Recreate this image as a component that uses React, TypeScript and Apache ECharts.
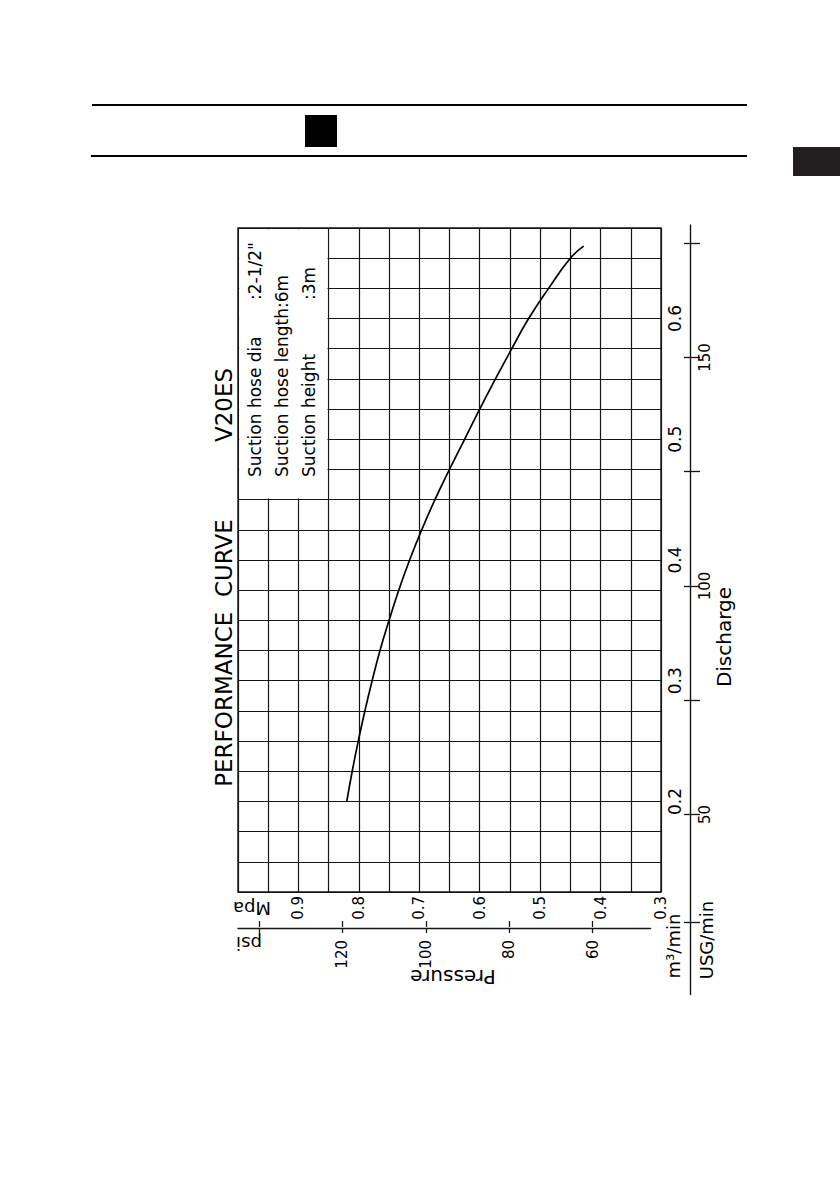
import React, { useEffect, useRef } from "react";
import * as echarts from "echarts";

// ---- data (rotated performance curve) ----
const DISCHARGE_M3 = [0.2, 0.225, 0.25, 0.275, 0.3, 0.325, 0.35, 0.375, 0.4, 0.425, 0.45, 0.475, 0.5, 0.525, 0.55, 0.575, 0.6, 0.625, 0.65, 0.66];
const PRESSURE_MPA = [0.82, 0.811, 0.801, 0.79, 0.778, 0.765, 0.75, 0.734, 0.716, 0.696, 0.674, 0.65, 0.625, 0.6, 0.574, 0.547, 0.519, 0.486, 0.45, 0.428];

const MPA_MIN = 0.3;
const MPA_MAX = 1.0;
const MPA_STEP = 0.05;
const M3_MIN = 0.125;
const M3_MAX = 0.675;
const M3_STEP = 0.025;
const PSI_TICKS = [60, 80, 100, 120, 140];
const PSI_LABELS = [60, 80, 100, 120];
const USG_TICKS = [50, 75, 100, 125, 150, 175];
const USG_LABELS = [50, 100, 150];
const M3_ORIGIN_TICK = 0.1;
const PSI_PER_MPA = 145.038;
const USG_PER_M3 = 264.172;

const TITLE = "PERFORMANCE  CURVE";
const MODEL = "V20ES";
const INFO_LABELS = ["Suction hose dia", "Suction hose length:6m", "Suction height"];
const INFO_VALUES = [':2-1/2"', "", ":3m"];
const INFO_BOX = { mpaFrom: 1.0, mpaTo: 0.85, m3From: 0.45, m3To: 0.675 };

const FONT = "DejaVu Sans";
const INK = "#151515";

const psiToMpa = (p: number) => p / PSI_PER_MPA;
const usgToM3 = (u: number) => u / USG_PER_M3;

export default function App() {
  const ref = useRef<HTMLDivElement>(null);
  useEffect(() => {
    if (!ref.current) return;
    const chart = echarts.init(ref.current, undefined, { renderer: "svg" });
    const lbl = { color: "#000", fontFamily: FONT };
    const axisTickM3 = [M3_ORIGIN_TICK, ...USG_TICKS.map(usgToM3)];
    const option: any = {
      animation: false,
      backgroundColor: "#fff",
      grid: [
        { left: 238, top: 228, width: 423, height: 664, show: true, borderColor: INK, borderWidth: 1.4 },
        { left: 690, top: 225, width: 1, height: 769.6 },
        { left: 238, top: 927, width: 412.6, height: 1 },
      ],
      xAxis: [
        {
          gridIndex: 0, type: "value", min: MPA_MIN, max: MPA_MAX, interval: MPA_STEP, inverse: true, position: "bottom",
          axisLine: { show: false }, axisTick: { show: false },
          splitLine: { show: true, lineStyle: { color: INK, width: 1.2 } },
          axisLabel: {
            ...lbl, rotate: 90, margin: 4, fontSize: 15,
            formatter: (v: number) => { const r = Math.round(v * 100); return r % 10 === 0 && r < 100 ? (r / 100).toFixed(1) : ""; },
          },
        },
        { gridIndex: 1, type: "value", show: false, min: 0, max: 1 },
        {
          gridIndex: 2, type: "value", min: 0.318, max: MPA_MAX, inverse: true, position: "bottom",
          axisLine: { show: true, lineStyle: { color: INK, width: 1.3 } },
          axisTick: { show: true, customValues: PSI_TICKS.map(psiToMpa), length: 5, lineStyle: { color: INK, width: 1.3 } },
          splitLine: { show: false },
          axisLabel: {
            ...lbl, customValues: PSI_LABELS.map(psiToMpa), rotate: 90, margin: 12, fontSize: 15,
            formatter: (v: number) => String(Math.round(v * PSI_PER_MPA)),
          },
        },
        {
          gridIndex: 2, type: "value", min: 0.318, max: MPA_MAX, inverse: true, position: "top",
          axisLine: { show: false },
          axisTick: { show: true, customValues: PSI_TICKS.map(psiToMpa), length: 6, lineStyle: { color: INK, width: 1.3 } },
          splitLine: { show: false }, axisLabel: { show: false },
        },
      ],
      yAxis: [
        {
          gridIndex: 0, type: "value", min: M3_MIN, max: M3_MAX, interval: M3_STEP, position: "right",
          axisLine: { show: false }, axisTick: { show: false },
          splitLine: { show: true, lineStyle: { color: INK, width: 1.2 } },
          axisLabel: {
            ...lbl, rotate: 90, margin: 14, fontSize: 17, align: "center", verticalAlign: "middle",
            formatter: (v: number) => { const r = Math.round(v * 1000); return r % 100 === 0 ? (r / 1000).toFixed(1) : ""; },
          },
        },
        {
          gridIndex: 1, type: "value", min: 0.04, max: 0.6775, position: "left",
          axisLine: { show: true, lineStyle: { color: INK, width: 1.4 } },
          axisTick: { show: true, customValues: axisTickM3, length: 6, lineStyle: { color: INK, width: 1.3 } },
          splitLine: { show: false }, axisLabel: { show: false },
        },
        {
          gridIndex: 1, type: "value", min: 0.04, max: 0.6775, position: "right",
          axisLine: { show: false },
          axisTick: { show: true, customValues: axisTickM3, length: 9, lineStyle: { color: INK, width: 1.3 } },
          splitLine: { show: false },
          axisLabel: {
            ...lbl, customValues: USG_LABELS.map(usgToM3), rotate: 90, margin: 14, fontSize: 15, align: "center", verticalAlign: "middle",
            formatter: (v: number) => String(Math.round(v * USG_PER_M3)),
          },
        },
        { gridIndex: 2, type: "value", show: false, min: 0, max: 1 },
      ],
      series: [
        {
          type: "line", xAxisIndex: 0, yAxisIndex: 0, smooth: 0.5, showSymbol: false, symbol: "none",
          lineStyle: { color: "#000", width: 1.7 },
          data: DISCHARGE_M3.map((q, i) => [PRESSURE_MPA[i], q]),
          z: 3,
        },
      ],
    };
    chart.setOption(option);

    const [bx1, by1] = chart.convertToPixel({ seriesIndex: 0 }, [INFO_BOX.mpaFrom, INFO_BOX.m3To]) as number[];
    const [bx2, by2] = chart.convertToPixel({ seriesIndex: 0 }, [INFO_BOX.mpaTo, INFO_BOX.m3From]) as number[];

    const txt = (text: string, x: number, y: number, size: number, rotation: number, align = "center", extra: any = {}) => ({
      type: "text", x, y, rotation, z: 20,
      style: { text, font: `${size}px "${FONT}"`, fill: "#000", textAlign: align, textVerticalAlign: "middle", ...extra },
    });

    const graphic: any[] = [
      { type: "rect", z: 15, shape: { x: bx1 + 1.2, y: by1 + 1.2, width: bx2 - bx1 - 2.4, height: by2 - by1 - 2.4 }, style: { fill: "#fff" } },
      txt(TITLE, 224, 653, 23, Math.PI / 2),
      txt(MODEL, 224, 405, 23, Math.PI / 2),
      txt(INFO_LABELS[0], 255, 477, 17, Math.PI / 2, "left"),
      txt(INFO_VALUES[0], 255, 300, 17, Math.PI / 2, "left"),
      txt(INFO_LABELS[1], 282, 477, 17, Math.PI / 2, "left"),
      txt(INFO_LABELS[2], 309, 477, 17, Math.PI / 2, "left"),
      txt(INFO_VALUES[2], 309, 300, 17, Math.PI / 2, "left"),
      txt("Mpa", 252, 908, 18, Math.PI),
      txt("psi", 249, 943, 18, Math.PI),
      txt("Pressure", 453, 977, 20, Math.PI),
      txt("m³/min", 673, 946, 18, Math.PI / 2),
      txt("USG/min", 706, 940, 18, Math.PI / 2),
      txt("Discharge", 724, 637, 20, Math.PI / 2),
      { type: "line", z: 20, shape: { x1: 92, y1: 105, x2: 747, y2: 105 }, style: { stroke: "#000", lineWidth: 2 } },
      { type: "line", z: 20, shape: { x1: 91, y1: 156, x2: 747, y2: 156 }, style: { stroke: "#000", lineWidth: 2 } },
      { type: "rect", z: 20, shape: { x: 305, y: 115, width: 32, height: 32 }, style: { fill: "#000" } },
      { type: "rect", z: 20, shape: { x: 793, y: 147, width: 47, height: 29 }, style: { fill: "#231f20" } },
    ];
    chart.setOption({ graphic });

    return () => chart.dispose();
  }, []);
  return <div ref={ref} style={{ position: "fixed", left: 0, top: 0, width: 840, height: 1192, background: "#fff" }} />;
}
